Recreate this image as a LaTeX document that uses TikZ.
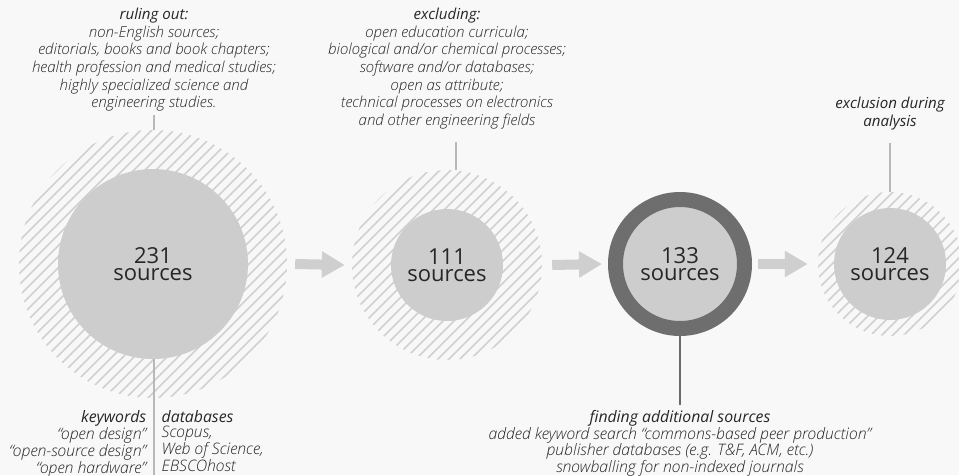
\documentclass[tikz,border=0pt]{standalone}
\usepackage{fontspec}
\setmainfont{Open Sans}
\IfFontExistsTF{Open Sans Light Italic}{\newfontfamily\bodyfont{Open Sans Light Italic}}{\newfontfamily\bodyfont{Open Sans Italic}}
\usetikzlibrary{arrows.meta,calc}
\definecolor{bgc}{HTML}{F8F8F8}
\definecolor{hatchc}{HTML}{D0D0D0}
\definecolor{fillc}{HTML}{CDCDCD}
\definecolor{ringc}{HTML}{6E6E6E}
\definecolor{linec}{HTML}{B8B8B8}
\definecolor{darklinec}{HTML}{6A6A6A}
\definecolor{arrowc}{HTML}{CFCFCF}
\definecolor{textc}{HTML}{262626}
\newcommand\hd[1]{{\normalfont\itshape #1}}
\tikzset{
  hatchline/.style={draw=hatchc, line width=1.7pt},
  hatchcircle/.style={circle, inner sep=0pt, minimum size=#1,
    path picture={
      \foreach \d in {-300,-289,...,300}
        \draw[hatchline] ([shift={(\d/2-200,\d/2+200)}]path picture bounding box.center)
          -- ([shift={(\d/2+200,\d/2-200)}]path picture bounding box.center);
    }},
  srcnode/.style={circle, fill=fillc, inner sep=0pt, minimum size=#1, align=center,
    text=textc, font=\fontsize{22}{17}\selectfont},
  ringnode/.style={circle, fill=fillc, draw=ringc, line width=15pt, inner sep=0pt,
    minimum size=#1, align=center, text=textc, font=\fontsize{22}{17}\selectfont},
  lead/.style={draw=linec, line width=1.5pt},
  darklead/.style={draw=darklinec, line width=2pt},
  blockarrow/.style={draw=arrowc, line width=10pt, -{Triangle[length=23pt,width=25pt]}},
  note/.style={inner sep=0pt, text=textc, font=\bodyfont\fontsize{15.1}{17.6}\selectfont},
  bnote/.style={inner sep=0pt, text=textc, font=\bodyfont\fontsize{15.8}{15}\selectfont},
}
\begin{document}
\begin{tikzpicture}[x=1pt,y=-1pt]
\fill[bgc] (0,0) rectangle (959,475);
\useasboundingbox (0,0) rectangle (959,475);

% hatched outer circles
\node[hatchcircle=268pt] (h1) at (153,264) {};
\node[hatchcircle=190pt] (h2) at (447,265) {};
\node[hatchcircle=144pt] (h4) at (890,264) {};

% lead under the first circle
\coordinate (bot) at (154,475);
\draw[lead] (154,300) -- (bot);

% source circles
\node[srcnode=190pt] (c1) at (153,264) {231\\sources};
\node[srcnode=112pt] (c2) at (447,265) {111\\sources};
\node[ringnode=129pt] (c3) at (680,264) {133\\sources};
\node[srcnode=112pt] (c4) at (890,264) {124\\sources};

% texts
\node[note, align=center, anchor=north] (t1) at (154,8) {\hd{ruling out:}\\non-English sources;\\editorials, books and book chapters;\\health profession and medical studies;\\highly specialized science and\\engineering studies.};
\node[note, align=center, anchor=north] (t2) at (447,8) {\hd{excluding:}\\open education curricula;\\biological and/or chemical processes;\\software and/or databases;\\open as attribute;\\technical processes on electronics\\and other engineering fields};
\node[note, align=center, anchor=north] (t4) at (890,97) {\hd{exclusion during}\\\hd{analysis}};
\node[bnote, align=right, anchor=north east] (kw) at (146.5,410.5) {\hd{keywords}\\“open design”\\“open-source design”\\“open hardware”};
\node[bnote, align=left, anchor=north west] (db) at (161.5,410.5) {\hd{databases}\\Scopus,\\Web of Science,\\EBSCOhost};
\node[bnote, align=center, anchor=north] (fa) at (680,410) {\hd{finding additional sources}\\added keyword search “commons-based peer production”\\publisher databases (e.g. T\&F, ACM, etc.)\\snowballing for non-indexed journals};

% lead lines
\draw[lead] ([yshift=-3pt]t1.south) -- (t1.south |- h1.north);
\draw[lead] ([xshift=9pt,yshift=-13pt]t2.south) -- ([xshift=9pt]t2.south |- h2.north);
\draw[lead] ([yshift=-12.5pt]t4.south) -- (t4.south |- h4.north);
\draw[darklead] (c3.south) -- ([yshift=5pt]fa.north);

% block arrows
\draw[blockarrow] ([xshift=8pt]h1.east) -- ([xshift=-7pt]h2.west);
\draw[blockarrow] ([xshift=10pt]h2.east) -- ([xshift=-6pt]c3.west);
\draw[blockarrow] ([xshift=6pt]c3.east) -- ([xshift=-10pt]h4.west);
\end{tikzpicture}
\end{document}
